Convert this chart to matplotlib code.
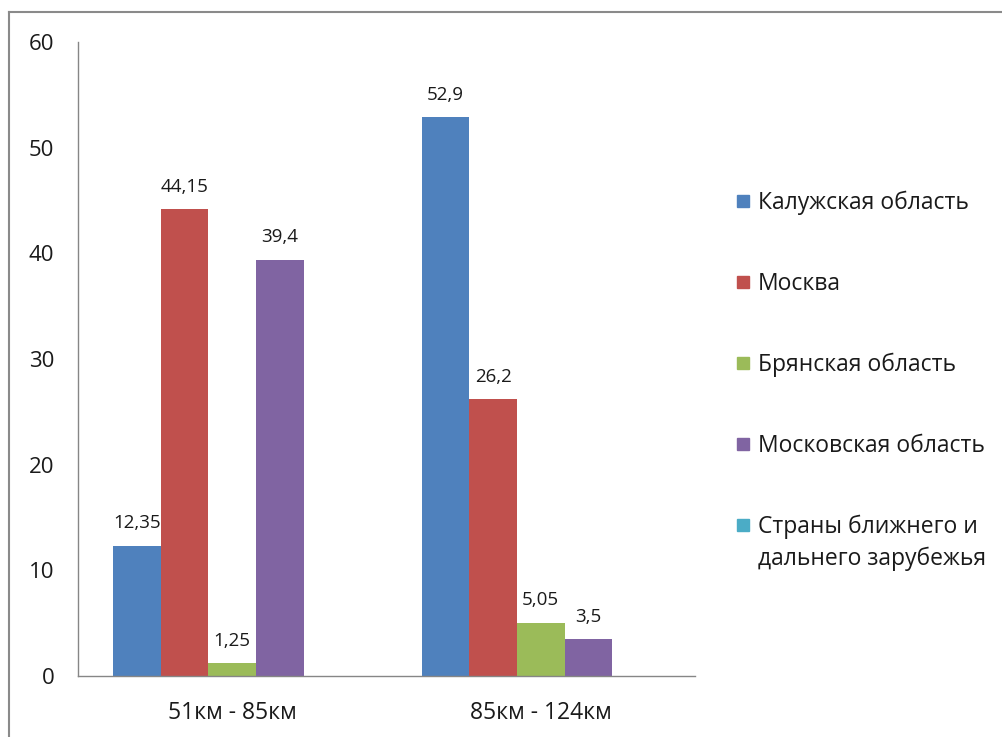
import numpy as np
import matplotlib.pyplot as plt
from matplotlib.patches import Rectangle
from matplotlib.lines import Line2D

plt.rcParams['font.family'] = ['Open Sans', 'DejaVu Sans']

categories = ['51км - 85км', '85км - 124км']
series = ['Калужская область', 'Москва', 'Брянская область',
          'Московская область', 'Страны ближнего и\nдальнего зарубежья']
kaluga = [12.35, 52.9]
moskva = [44.15, 26.2]
bryansk = [1.25, 5.05]
mosobl = [39.4, 3.5]
abroad = [np.nan, np.nan]
colors = ['#4F81BD', '#C0504D', '#9BBB59', '#8064A2', '#4BACC6']

W, H = 1003, 737
fig = plt.figure(figsize=(W / 100, H / 100), dpi=100)
ax = fig.add_axes([78 / W, 1 - 676 / H, (695 - 78) / W, (676 - 42) / H])

x = np.arange(len(categories))
width = 0.154
for i, (vals, c) in enumerate(zip([kaluga, moskva, bryansk, mosobl, abroad], colors)):
    bars = ax.bar(x + (i - 2) * width, vals, width, color=c)
    for b, v in zip(bars, vals):
        if np.isnan(v):
            continue
        ax.annotate(f'{v:g}'.replace('.', ','),
                    (b.get_x() + b.get_width() / 2, v),
                    xytext=(0, 16), textcoords='offset points',
                    ha='center', va='center', fontsize=13.5, color='#1a1a1a')

ax.set_xlim(-0.5, 1.5)
ax.set_ylim(0, 60)
ax.set_yticks(range(0, 61, 10))
ax.set_xticks(x)
ax.set_xticklabels(categories)
for s in ['top', 'right']:
    ax.spines[s].set_visible(False)
for s in ['left', 'bottom']:
    ax.spines[s].set_color('#868686')
    ax.spines[s].set_linewidth(1)
ax.tick_params(length=0, labelsize=16, colors='#1a1a1a')
ax.tick_params(axis='y', pad=17)
ax.tick_params(axis='x', pad=18, labelsize=16.5)

# outer chart border
fig.add_artist(Line2D([9.5 / W, 9.5 / W], [0, 1 - 12 / H], color='#8a8a8a', lw=1.5))
fig.add_artist(Line2D([9.5 / W, 1], [1 - 12 / H, 1 - 12 / H], color='#8a8a8a', lw=1.5))

# legend on the right, one line of text at a time
for i, (name, c) in enumerate(zip(series, colors)):
    yc = 201 + i * 81
    fig.add_artist(Rectangle((737 / W, 1 - (yc + 6) / H), 12 / W, 12 / H,
                             transform=fig.transFigure, color=c))
    for j, line in enumerate(name.split('\n')):
        fig.text(758 / W, 1 - (yc + 8 + 32 * j) / H, line, va='baseline',
                 fontsize=16.5, color='#1a1a1a')

fig.savefig('out.png', dpi=100)
